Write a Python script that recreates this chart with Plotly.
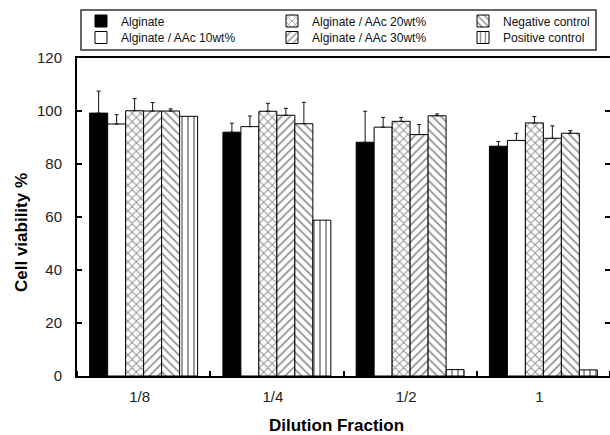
import plotly.graph_objects as go

# Dilution fractions on the x axis
categories = ["1/8", "1/4", "1/2", "1"]

# Cell viability (%) per sample, with upper standard deviation
alginate = [99.2, 92.0, 88.2, 86.7]
alginate_err = [8.3, 3.4, 11.7, 1.8]
aac10 = [95.1, 94.1, 93.9, 88.9]
aac10_err = [3.5, 4.0, 3.7, 2.7]
aac20 = [100.1, 99.9, 96.1, 95.5]
aac20_err = [4.6, 3.0, 1.5, 2.4]
aac30 = [100.0, 98.4, 91.1, 89.7]
aac30_err = [3.2, 2.6, 3.8, 4.7]
negative = [100.0, 95.2, 98.2, 91.6]
negative_err = [0.8, 8.1, 0.7, 1.0]
positive = [98.0, 58.8, 2.4, 2.3]

y_ticks = [0, 20, 40, 60, 80, 100, 120]

FONT = "Liberation Sans, Arial, sans-serif"
W, H = 610, 435
L, R, T, B = 77, 0, 58, 59

xpos = list(range(len(categories)))

series = [
    # name, values, errors, fill, pattern shape, legend id, legend column, legend row
    ("Alginate", alginate, alginate_err, "black", "", "legend", 0, 0),
    ("Alginate / AAc 10wt%", aac10, aac10_err, "white", "", "legend2", 0, 1),
    ("Alginate / AAc 20wt%", aac20, aac20_err, "white", "x", "legend3", 1, 0),
    ("Alginate / AAc 30wt%", aac30, aac30_err, "white", "/", "legend4", 1, 1),
    ("Negative control", negative, negative_err, "white", "\\", "legend5", 2, 0),
    ("Positive control", positive, None, "white", "|", "legend6", 2, 1),
]

# legend text start (px) per column and row centre (px) per row
col_text_x = [121, 312, 503]
row_y = [21, 37.5]

fig = go.Figure()
legends = {}
for name, vals, errs, fill, shape, leg, col, row in series:
    marker = dict(color=fill, line=dict(color="black", width=1))
    if shape:
        marker["pattern"] = dict(shape=shape, size=6, solidity=0.3,
                                 fgcolor="#222", bgcolor="white")
    err = None
    if errs is not None:
        err = dict(type="data", symmetric=False, array=errs,
                   arrayminus=[0] * len(errs), color="#111",
                   thickness=1, width=2)
    fig.add_trace(go.Bar(x=xpos, y=vals, name=name, marker=marker,
                         error_y=err, legend=leg, showlegend=True))
    legends[leg] = dict(
        xref="container", yref="container",
        x=(col_text_x[col] - 40) / W, xanchor="left",
        y=1 - row_y[row] / H, yanchor="middle",
        bgcolor="rgba(0,0,0,0)", borderwidth=0,
        font=dict(family=FONT, size=12, color="#111"),
    )

plot_w = W - L - R
plot_h = H - T - B

def px_to_paper_x(px):
    return (px - L) / plot_w

def px_to_paper_y(py):
    return (H - B - py) / plot_h

title_font = dict(family=FONT, size=17, color="black", weight="bold")

fig.update_layout(
    width=W, height=H,
    margin=dict(l=L, r=R, t=T, b=B, pad=0, autoexpand=False),
    paper_bgcolor="white", plot_bgcolor="white",
    barmode="group", bargap=0.19, bargroupgap=0,
    font=dict(family=FONT, size=15, color="#222"),
    xaxis=dict(
        range=[-0.5, 3.5], tickvals=xpos, ticktext=categories,
        ticks="", showgrid=False, zeroline=False,
        showline=True, linecolor="black", linewidth=2, mirror=True,
        minor=dict(ticks="inside", ticklen=5, tickwidth=2, tickcolor="black",
                   tick0=0.5, dtick=1, showgrid=False),
        ticklabelstandoff=6, ticklabelshift=-4,
        tickfont=dict(family=FONT, size=15, color="#222"),
    ),
    yaxis=dict(
        range=[0, 120], tickvals=y_ticks, ticks="inside", ticklen=5,
        tickwidth=2, tickcolor="black", showgrid=False, zeroline=False,
        showline=True, linecolor="black", linewidth=2, mirror=False,
        ticklabelstandoff=10,
        tickfont=dict(family=FONT, size=15, color="#222"),
    ),
    yaxis2=dict(
        range=[0, 120], tickvals=y_ticks, overlaying="y", side="right",
        ticks="inside", ticklen=5, tickwidth=2, tickcolor="black",
        showticklabels=False, showgrid=False, zeroline=False, showline=False,
    ),
    shapes=[dict(
        type="rect", xref="paper", yref="paper",
        x0=px_to_paper_x(81), x1=px_to_paper_x(596),
        y0=px_to_paper_y(50), y1=px_to_paper_y(10),
        line=dict(color="#333", width=1.5), fillcolor="rgba(0,0,0,0)",
        layer="above",
    )],
    annotations=[
        dict(text="Dilution Fraction", xref="paper", yref="paper",
             x=px_to_paper_x(336), y=px_to_paper_y(425),
             xanchor="center", yanchor="middle", showarrow=False,
             font=title_font),
        dict(text="Cell viability %", xref="paper", yref="paper",
             x=px_to_paper_x(21), y=px_to_paper_y(232), textangle=-90,
             xanchor="center", yanchor="middle", showarrow=False,
             font=title_font),
    ],
    **legends,
)

# keeps the right-hand tick axis drawn
fig.add_trace(go.Scatter(x=[], y=[], yaxis="y2", showlegend=False,
                         hoverinfo="skip"))

fig.write_html("out.html")
